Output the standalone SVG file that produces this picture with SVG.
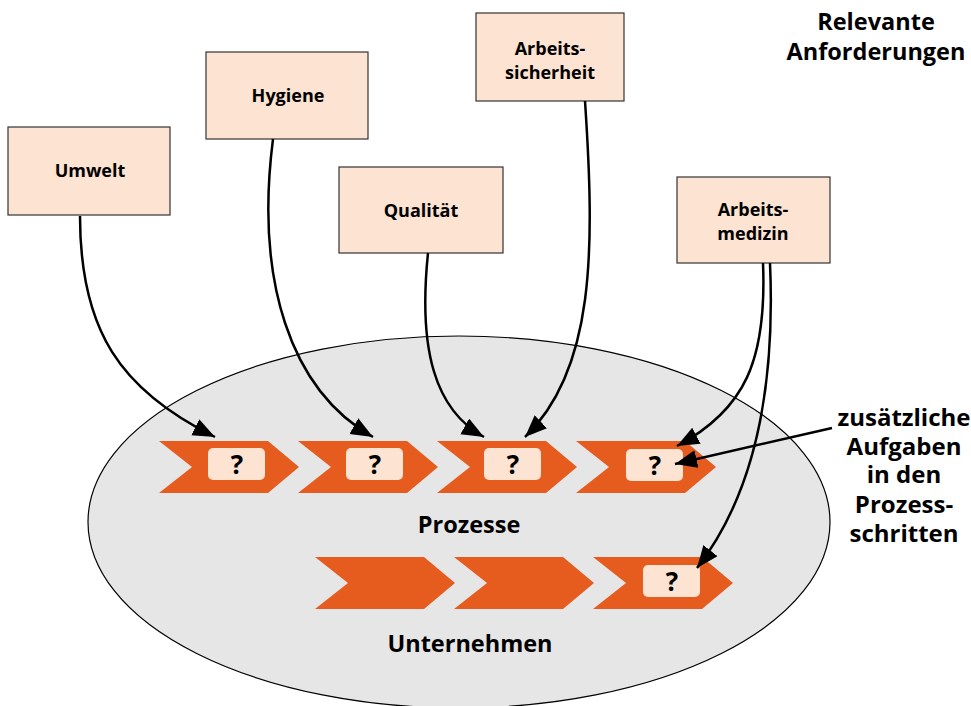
<svg xmlns="http://www.w3.org/2000/svg" xmlns:xlink="http://www.w3.org/1999/xlink" width="971" height="706" viewBox="0 0 971 706">
<style>
.box{fill:#fde3d1;stroke:#333;stroke-width:1.2}
.t{font-family:"Open Sans","Noto Sans","Liberation Sans",sans-serif;font-weight:bold;fill:#000;text-anchor:middle}
.bt{font-size:18px}
.big{font-size:23.5px}
.rt{font-size:24px}
.q{font-size:26px}
.chev{fill:#e65c1f}
.qb{fill:#fde3d1}
.con{fill:none;stroke:#000;stroke-width:2.5;marker-end:url(#ah)}
</style>
<defs>
<marker id="ah" markerUnits="userSpaceOnUse" markerWidth="24" markerHeight="20" refX="22" refY="9" orient="auto">
<path d="M0,0 L22,9 L0,18 Z" fill="#000"/>
</marker>
<path id="chev" d="M0,0 L109,0 L140,26 L109,52 L0,52 L33,26 Z"/>
</defs>
<rect width="971" height="706" fill="#fff"/>
<g id="unternehmen">
<ellipse cx="459" cy="522" rx="371" ry="186" fill="#e6e6e6" stroke="#000" stroke-width="1.2"/>
<text class="t big" x="470" y="652">Unternehmen</text>
</g>
<g id="prozesse">
<use xlink:href="#chev" class="chev" x="159" y="441"/>
<use xlink:href="#chev" class="chev" x="298" y="441"/>
<use xlink:href="#chev" class="chev" x="437" y="441"/>
<use xlink:href="#chev" class="chev" x="576" y="441"/>
<rect class="qb" x="208" y="448" width="57" height="32" rx="5"/>
<rect class="qb" x="346" y="448" width="57" height="32" rx="5"/>
<rect class="qb" x="484" y="448" width="57" height="32" rx="5"/>
<rect class="qb" x="626" y="449" width="57" height="32" rx="5"/>
<text class="t q" x="237" y="474">?</text>
<text class="t q" x="375" y="474">?</text>
<text class="t q" x="513" y="474">?</text>
<text class="t q" x="655" y="475">?</text>
<text class="t big" x="469" y="533">Prozesse</text>
</g>
<g id="prozesse2">
<use xlink:href="#chev" class="chev" x="315" y="557"/>
<use xlink:href="#chev" class="chev" x="454" y="557"/>
<use xlink:href="#chev" class="chev" x="593" y="557"/>
<rect class="qb" x="643" y="565" width="57" height="32" rx="5"/>
<text class="t q" x="672" y="591">?</text>
</g>
<g id="umwelt">
<rect class="box" x="8" y="127" width="162" height="88"/>
<text class="t bt" x="90" y="177">Umwelt</text>
</g>
<g id="hygiene">
<rect class="box" x="206" y="52" width="162" height="87"/>
<text class="t bt" x="288" y="102">Hygiene</text>
</g>
<g id="qualitaet">
<rect class="box" x="339" y="167" width="164" height="86"/>
<text class="t bt" x="421" y="217">Qualität</text>
</g>
<g id="arbeitssicherheit">
<rect class="box" x="476" y="13" width="148" height="88"/>
<text class="t bt" x="550" y="55">Arbeits-</text>
<text class="t bt" x="550" y="79">sicherheit</text>
</g>
<g id="arbeitsmedizin">
<rect class="box" x="677" y="177" width="153" height="86"/>
<text class="t bt" x="753" y="216">Arbeits-</text>
<text class="t bt" x="753" y="240">medizin</text>
</g>
<g id="titel">
<text class="t big" x="876" y="30">Relevante</text>
<text class="t big" x="876" y="60">Anforderungen</text>
</g>
<g id="hinweis">
<text class="t rt" x="904" y="426">zusätzliche</text>
<text class="t rt" x="904" y="455">Aufgaben</text>
<text class="t rt" x="904" y="483">in den</text>
<text class="t rt" x="904" y="513">Prozess-</text>
<text class="t rt" x="904" y="542">schritten</text>
</g>
<g id="connectors">
<path class="con" d="M80,216 C80,330 120,390 215,437"/>
<path class="con" d="M273,139 C255,280 290,390 373,437"/>
<path class="con" d="M428,253 C418,350 435,410 484,437"/>
<path class="con" d="M585,101 C595,250 595,370 525,437"/>
<path class="con" d="M763,263 C767,360 745,410 677,446"/>
<path class="con" d="M770,263 C776,400 750,500 697,568"/>
<path class="con" d="M832,428 L675,464"/>
</g>
</svg>
